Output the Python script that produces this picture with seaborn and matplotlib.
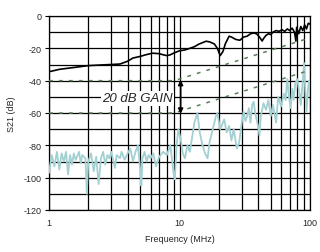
import matplotlib
matplotlib.use("Agg")
import matplotlib.pyplot as plt
import seaborn as sns
import pandas as pd
import numpy as np
from matplotlib.ticker import FixedLocator, NullFormatter

# ---- data ----
black_f = [1.0, 1.2, 1.5, 2.0, 2.5, 3.0, 3.5, 4.0, 4.4, 5.0, 5.5, 6.2, 7.0, 7.5, 8.0, 8.5, 9.0,
           10, 11, 12, 13, 14, 15, 16, 17, 18.5, 19.5, 20.5, 21.5, 22.5, 24, 25, 27, 29, 31, 33,
           35, 37, 39, 41, 43, 44, 46, 48, 50, 52, 55, 58, 61, 64, 67, 70, 73, 76, 78, 79, 82,
           85, 88, 91, 94, 97, 100]
black_db = [-34.5, -33, -32, -30.7, -30.3, -30, -29.7, -28, -26, -25, -24, -23, -23.3, -24, -24.5, -24, -23,
            -21.5, -21, -20, -19, -17.5, -16.5, -15.6, -16, -17.3, -20, -24.5, -22, -17, -12.5, -13, -14.5,
            -15, -13, -12.5, -11, -10.5, -11, -13, -15.5, -14, -12, -11, -11.5, -10, -9, -9.5, -8.5, -9.5,
            -8, -9, -7.5, -10, -15.5, -7, -11, -6.5, -9, -5.5, -8, -4.5, -5]

gain_hi_f = [1, 9.1, 100]
gain_hi_db = [-40, -40, -13.5]
gain_lo_f = [1, 9.1, 100]
gain_lo_db = [-60, -60, -33.5]

blue_f = [1.0, 1.05, 1.1, 1.15, 1.2, 1.25, 1.3, 1.35, 1.4, 1.45, 1.5, 1.55, 1.6, 1.7, 1.75, 1.8,
          1.9, 1.95, 2.0, 2.1, 2.2, 2.3, 2.4, 2.5, 2.6, 2.7, 2.8, 2.9, 3.0, 3.2, 3.3, 3.5, 3.6,
          3.8, 4.0, 4.2, 4.4, 4.6, 4.8, 5.0, 5.1, 5.2, 5.4, 5.6, 5.8, 6.0, 6.3, 6.6, 7.0, 7.5,
          8.0, 8.5, 9.0, 9.2, 9.5, 9.8, 10.2, 10.6, 11, 11.5, 12, 12.5, 13, 13.7, 14.3, 15,
          15.7, 16.4, 17, 18, 19, 19.5, 20.5, 21.5, 22, 23, 24, 25, 26, 27.5, 28.7, 30, 31, 32,
          33, 34, 35, 36, 37, 38, 40, 41, 42, 44, 46, 48, 50, 52, 55, 57, 60, 63, 65, 67, 69,
          71, 73, 75, 77, 80, 83, 85, 88, 90, 92, 94, 96, 98, 100]
blue_db = [-97, -86, -93, -84, -95, -85, -90, -84, -98, -86, -92, -85, -89, -84, -91, -86,
           -88, -110, -90, -85, -96, -87, -104, -88, -84, -92, -86, -88, -84, -94, -86, -88, -84,
           -89, -85, -82, -90, -84, -80, -95, -105, -88, -84, -90, -86, -88, -85, -93, -87, -84,
           -86, -80, -97, -101, -80, -70, -76, -85, -88, -80, -84, -75, -66, -60, -72, -80,
           -85, -88, -78, -70, -62, -60, -70, -66, -64, -72, -68, -77, -70, -82, -78, -66, -59, -65,
           -62, -57, -66, -55, -53, -60, -68, -74, -62, -54, -58, -52, -62, -55, -66, -50, -56, -48, -52, -39, -50,
           -57, -45, -52, -42, -39, -48, -55, -40, -29, -46, -59, -48, -40, -44]

x_ticks = [1, 10, 100]
x_tick_labels = ["1", "10", "100"]
y_ticks = [0, -20, -40, -60, -80, -100, -120]

# ---- drawing ----
sns.set_style("white")
plt.rcParams['font.family'] = ['Liberation Sans', 'DejaVu Sans']
plt.rcParams['axes.unicode_minus'] = False

fig = plt.figure(figsize=(3.2, 2.53), dpi=100)
ax = fig.add_axes([49/320, 42/253, 261/320, 194/253])

blue_df = pd.DataFrame({"f": blue_f, "db": blue_db})
black_df = pd.DataFrame({"f": black_f, "db": black_db})
hi_df = pd.DataFrame({"f": gain_hi_f, "db": gain_hi_db})
lo_df = pd.DataFrame({"f": gain_lo_f, "db": gain_lo_db})

ax.set_xscale("log")
sns.lineplot(data=blue_df, x="f", y="db", ax=ax, color="#a3d0d2", lw=1.3, sort=False, zorder=3)
for d in (hi_df, lo_df):
    sns.lineplot(data=d, x="f", y="db", ax=ax, color="#5a7f58", lw=1.1, sort=False,
                 dashes=False, zorder=4, linestyle=(0, (2.5, 4)))
sns.lineplot(data=black_df, x="f", y="db", ax=ax, color="black", lw=1.2, sort=False, zorder=5)

ax.set_xlim(1, 100)
ax.set_ylim(-120, 0)

minor = [m * d for d in (1, 10) for m in range(2, 10)]
ax.xaxis.set_major_locator(FixedLocator(x_ticks))
ax.xaxis.set_minor_locator(FixedLocator(minor))
ax.xaxis.set_minor_formatter(NullFormatter())
ax.set_xticklabels(x_tick_labels)
ax.yaxis.set_major_locator(FixedLocator(y_ticks))
ax.yaxis.set_minor_locator(FixedLocator(list(range(-110, 0, 20))))

ax.grid(True, which="both", color="black", lw=0.9, zorder=1)
ax.set_axisbelow(True)
for s in ax.spines.values():
    s.set_color("black")
    s.set_linewidth(0.9)

ax.tick_params(axis="y", which="major", length=3, width=0.8, color="black", labelsize=6.5, pad=2, left=True)
ax.tick_params(axis="y", which="minor", length=0)
ax.tick_params(axis="x", which="both", length=0, labelsize=6.5, pad=6)

ax.set_xlabel("Frequency (MHz)", fontsize=6.5, labelpad=5)
ax.set_ylabel("S21 (dB)", fontsize=6.5, labelpad=6)

ax.annotate("", xy=(10.2, -60.5), xytext=(10.2, -39.5),
            arrowprops=dict(arrowstyle="<|-|>", color="black", lw=1.2, mutation_scale=7,
                            shrinkA=0, shrinkB=0), zorder=6)
ax.text(8.9, -51, "20 dB GAIN", fontsize=9.5, style="italic", ha="right", va="center",
        zorder=6, bbox=dict(facecolor="white", edgecolor="none", pad=0.8))

fig.savefig("out.png", dpi=100)
